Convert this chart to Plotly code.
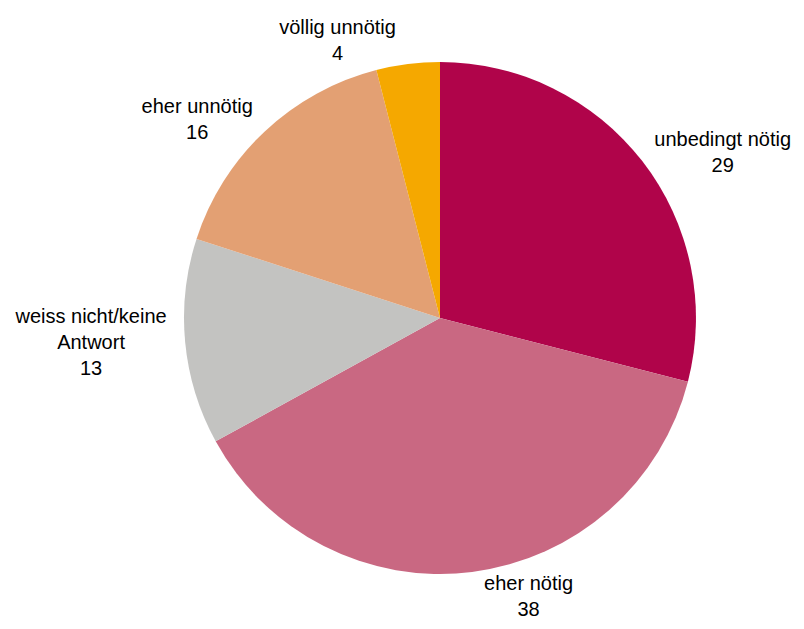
import plotly.graph_objects as go

# answer categories, clockwise from 12 o'clock
labels = ["unbedingt nötig", "eher nötig", "weiss nicht/keine<br>Antwort", "eher unnötig", "völlig unnötig"]
values = [29, 38, 13, 16, 4]
colors = ["#B0044A", "#C96882", "#C3C3C1", "#E3A073", "#F5A800"]

fig = go.Figure(
    go.Pie(
        labels=labels,
        values=values,
        sort=False,
        direction="clockwise",
        rotation=0,
        marker=dict(colors=colors, line=dict(width=0)),
        texttemplate="%{label}<br>%{value}",
        textposition="outside",
        textfont=dict(family="Liberation Sans, Arial, sans-serif", size=20, color="#000000"),
        hoverinfo="label+value",
        domain=dict(x=[0.2211, 0.8643], y=[0.0886, 0.9130]),
    )
)

# page body adds an 8px margin, so the figure is sized to fit the window
fig.update_layout(
    width=796,
    height=621,
    margin=dict(l=0, r=0, t=0, b=0),
    showlegend=False,
    paper_bgcolor="white",
    plot_bgcolor="white",
)

fig.write_html("out.html")
